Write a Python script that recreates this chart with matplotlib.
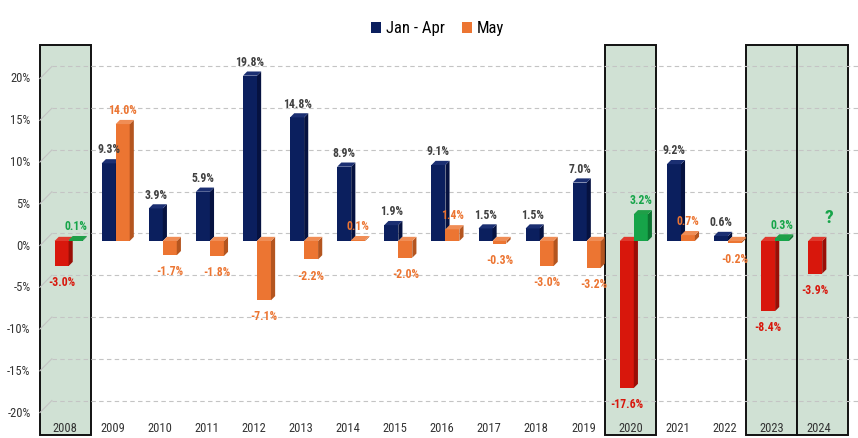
import matplotlib
matplotlib.use("Agg")
import matplotlib.pyplot as plt
from matplotlib.patches import Polygon, Rectangle, Patch

plt.rcParams['font.family'] = ['Roboto Condensed', 'Roboto', 'DejaVu Sans']

years = [str(y) for y in range(2008, 2025)]
jan_apr = [-3.0, 9.3, 3.9, 5.9, 19.8, 14.8, 8.9, 1.9, 9.1, 1.5, 1.5, 7.0,
           -17.6, 9.2, 0.6, -8.4, -3.9]
may = [0.1, 14.0, -1.7, -1.8, -7.1, -2.2, 0.1, -2.0, 1.4, -0.3, -3.0, -3.2,
       3.2, 0.7, -0.2, 0.3, None]
highlight = ["2008", "2020", "2023", "2024"]
yticks = [20, 15, 10, 5, 0, -5, -10, -15, -20]

NAVY = ("#0b1f5e", "#061240", "#1b2f72")
ORANGE = ("#ec7532", "#b4551f", "#f08d55")
RED = ("#d8170c", "#9a0e06", "#e0392d")
GREEN = ("#16a449", "#0c7431", "#1f9f48")

fig = plt.figure(figsize=(8.58, 4.38), dpi=100)
ax = fig.add_axes([0, 0, 1, 1])
ax.set_xlim(-1.3864, 16.83)
ax.set_ylim(-23.59, 28.86)
ax.axis("off")

DX, DY = 0.088, 0.5  # depth offset of the 3d bars
W = 0.297


def bar3d(x0, w, v, cols, z):
    front, side, top = cols
    lo, hi = min(0, v), max(0, v)
    ax.add_patch(Rectangle((x0, lo), w, hi - lo, fc=front, ec="none", zorder=z))
    ax.add_patch(Polygon([(x0 + w, lo), (x0 + w + DX, lo + DY),
                          (x0 + w + DX, hi + DY), (x0 + w, hi)],
                         fc=side, ec="none", zorder=z))
    ax.add_patch(Polygon([(x0, hi), (x0 + DX, hi + DY), (x0 + w + DX, hi + DY),
                          (x0 + w, hi)], fc=top, ec="none", zorder=z))


# highlighted years
prev_right = -99
for i, yr in enumerate(years):
    if yr in highlight:
        left = max(i - 0.54, prev_right)
        ax.add_patch(Rectangle((left, -23.2), 1.08, 46.67, fc="#d0e1d4",
                               ec="#111111", lw=1.4, zorder=1))
        prev_right = left + 1.08

# grid on the back wall + perspective stubs
x_front = -0.54
x_back = -0.54 + 12 / 47.1
for t in yticks:
    ax.plot([x_back, 16.83], [t + 0.9, t + 0.9], ls=(0, (4, 3)), lw=0.8,
            color="#c4c4c4", zorder=2)
    ax.plot([x_front, x_back], [t - 0.55, t + 0.9], lw=0.8,
            color="#c4c4c4", zorder=2)
    ax.text(-0.739, t - 0.6, f"{t}%", ha="right", va="center", fontsize=9,
            color="#333333")

for i, yr in enumerate(years):
    hl = yr in highlight
    ax.text(i, -22.4, yr, ha="center", va="center", fontsize=9,
            color="#333333", zorder=6)

    # Jan - Apr
    v = jan_apr[i]
    x0 = i - 0.227
    bar3d(x0, W, v, RED if hl else NAVY, 3)
    col = "#d8170c" if hl else "#404040"
    ly = v + 1.6 if v >= 0 else v - 2.0
    ax.text(x0 + W / 2, ly, f"{v:.1f}%", ha="center", va="center",
            fontsize=8.5, weight="bold", color=col, zorder=6)

    # May
    m = may[i]
    x1 = i + 0.07
    if m is None:
        ax.text(x1 + W / 2, 2.8, "?", ha="center", va="center", fontsize=14,
                weight="bold", color="#16a449", zorder=6)
        continue
    bar3d(x1, W, m, GREEN if hl else ORANGE, 4)
    col = "#16a449" if hl else "#ec7532"
    ly = m + 1.6 if m >= 0 else m - 2.0
    ax.text(x1 + W / 2, ly, f"{m:.1f}%", ha="center", va="center",
            fontsize=8.5, weight="bold", color=col, zorder=6)

handles = [Patch(fc=NAVY[0], label="Jan - Apr"), Patch(fc=ORANGE[0], label="May")]
fig.legend(handles=handles, loc="center", bbox_to_anchor=(0.51, 0.934), ncol=2,
           frameon=False, fontsize=12, handlelength=0.6, handleheight=0.7,
           handletextpad=0.3, columnspacing=1.0)

fig.savefig("out.png", dpi=100)
